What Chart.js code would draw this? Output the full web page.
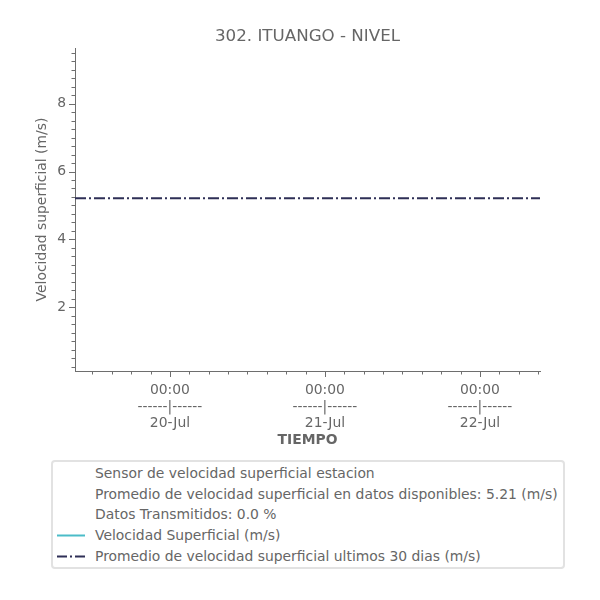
<!DOCTYPE html>
<html>
<head>
<meta charset="utf-8">
<script src="https://cdn.jsdelivr.net/npm/chart.js@4.4.1/dist/chart.umd.min.js"></script>
<style>
  html, body { margin:0; padding:0; background:#fff; }
  #wrap { position:relative; width:600px; height:600px; font-family:'DejaVu Sans', sans-serif; }
  #c { position:absolute; left:0; top:0; }
  #title { position:absolute; left:75px; width:465px; top:25px; height:20px; line-height:20px; text-align:center; font-size:16.7px; color:#666; white-space:nowrap; }
  #legend { position:absolute; left:51px; top:460px; width:510px; height:105px; border:2px solid #e2e2e2; border-radius:4px; background:#fff; }
  .row { position:absolute; left:0; height:20px; width:100%; }
  .row span { position:absolute; left:42px; top:0; font-size:13.9px; line-height:20px; color:#666; white-space:nowrap; }
  .row svg { position:absolute; left:4px; top:0; }
</style>
</head>
<body>
<div id="wrap">
  <canvas id="c" width="600" height="600"></canvas>
  <div id="title"></div>
  <div id="legend"></div>
</div>
<script>
// ---- data ----
const chartTitle = '302. ITUANGO - NIVEL';
const yAxisTitle = 'Velocidad superficial (m/s)';
const xAxisTitle = 'TIEMPO';
const dayLabels = ['20-Jul', '21-Jul', '22-Jul'];
const hourLabel = '00:00';
const dayTickHours = [0, 24, 48];          // hours from 20-Jul 00:00
const windowHours = [-14.7, 57.3];          // visible time window (hours)
const yTickValues = [2, 4, 6, 8];
const yRange = [0.12, 9.64];
const velocidadSuperficial = [];            // no data transmitted (0.0 %)
const promedio30Dias = [5.21, 5.21];        // 30-day mean at window start / end
const legendInfo = [
  'Sensor de velocidad superficial estacion',
  'Promedio de velocidad superficial en datos disponibles: 5.21 (m/s)',
  'Datos Transmitidos: 0.0 %'
];
const seriesNames = ['Velocidad Superficial (m/s)', 'Promedio de velocidad superficial ultimos 30 dias (m/s)'];

const cyan = '#4bbcc8';
const navy = '#2e2f56';
const axisColor = '#6e6e6e';
const textColor = '#666666';
const FONT = "'DejaVu Sans', sans-serif";

document.getElementById('title').textContent = chartTitle;

const tickMarks = {
  id: 'tickMarks',
  afterDraw(chart) {
    const {ctx, scales: {x, y}, chartArea} = chart;
    ctx.save();
    ctx.strokeStyle = axisColor;
    ctx.lineWidth = 1;
    ctx.beginPath();
    for (let h = Math.ceil(x.min / 3) * 3; h <= x.max; h += 3) {
      const px = Math.round(x.getPixelForValue(h)) + 0.5;
      const len = (h % 24 === 0) ? 6 : 3.5;
      ctx.moveTo(px, chartArea.bottom);
      ctx.lineTo(px, chartArea.bottom + len);
    }
    for (let k = Math.ceil(y.min / 0.25); k * 0.25 <= y.max; k++) {
      const py = Math.round(y.getPixelForValue(k * 0.25)) + 0.5;
      const len = (k % 8 === 0) ? 6 : 3.5;
      ctx.moveTo(chartArea.left - len, py);
      ctx.lineTo(chartArea.left, py);
    }
    ctx.stroke();
    ctx.restore();
  }
};

new Chart(document.getElementById('c'), {
  type: 'line',
  data: {
    datasets: [
      {
        label: seriesNames[0],
        data: velocidadSuperficial,
        borderColor: cyan,
        borderWidth: 2,
        pointRadius: 0
      },
      {
        label: seriesNames[1],
        data: windowHours.map((h, i) => ({x: h, y: promedio30Dias[i]})),
        borderColor: navy,
        borderWidth: 2,
        borderDash: [11, 3, 2, 3],
        pointRadius: 0
      }
    ]
  },
  options: {
    responsive: false,
    devicePixelRatio: 1,
    animation: false,
    layout: { padding: { left: 0, right: 60, top: 48, bottom: 147 } },
    plugins: {
      legend: { display: false },
      tooltip: { enabled: false },
      title: { display: false }
    },
    scales: {
      x: {
        type: 'linear',
        min: windowHours[0],
        max: windowHours[1],
        afterFit(scale) { scale.height = 82; },
        afterBuildTicks(scale) { scale.ticks = dayTickHours.map(v => ({value: v})); },
        grid: { drawOnChartArea: false, drawTicks: true, tickLength: 6, tickColor: 'rgba(0,0,0,0)' },
        border: { display: true, color: axisColor, width: 1 },
        ticks: {
          autoSkip: false, maxRotation: 0, padding: 5,
          color: textColor,
          font: { family: FONT, size: 13.9, lineHeight: 1.2 },
          callback: (v, i) => [hourLabel, '------|------', dayLabels[i]]
        },
        title: {
          display: true, text: xAxisTitle, color: textColor,
          font: { family: FONT, size: 13.9, weight: 'bold' },
          padding: { top: 0, bottom: 4.5 }
        }
      },
      y: {
        type: 'linear',
        min: yRange[0],
        max: yRange[1],
        afterFit(scale) { scale.width = 75; },
        afterBuildTicks(scale) { scale.ticks = yTickValues.map(v => ({value: v})); },
        grid: { drawOnChartArea: false, drawTicks: true, tickLength: 6, tickColor: 'rgba(0,0,0,0)' },
        border: { display: true, color: axisColor, width: 1 },
        ticks: {
          padding: 3, color: textColor,
          font: { family: FONT, size: 13.9 }
        },
        title: {
          display: true, text: yAxisTitle, color: textColor,
          font: { family: FONT, size: 13.9, weight: 'normal' },
          padding: { top: 34, bottom: 0 }
        }
      }
    }
  },
  plugins: [tickMarks]
});

// HTML legend
const legend = document.getElementById('legend');
const rows = [
  ...legendInfo.map(t => ({text: t, handle: ''})),
  {text: seriesNames[0], handle: `<svg width="30" height="20"><line x1="0" y1="10.5" x2="28" y2="10.5" stroke="${cyan}" stroke-width="2"/></svg>`},
  {text: seriesNames[1], handle: `<svg width="30" height="20"><line x1="0" y1="10.5" x2="28" y2="10.5" stroke="${navy}" stroke-width="2" stroke-dasharray="10,3,2,3"/></svg>`}
];
rows.forEach((r, i) => {
  const d = document.createElement('div');
  d.className = 'row';
  d.style.top = (1 + i * 20.7) + 'px';
  d.innerHTML = r.handle + '<span></span>';
  d.querySelector('span').textContent = r.text;
  legend.appendChild(d);
});
</script>
</body>
</html>
